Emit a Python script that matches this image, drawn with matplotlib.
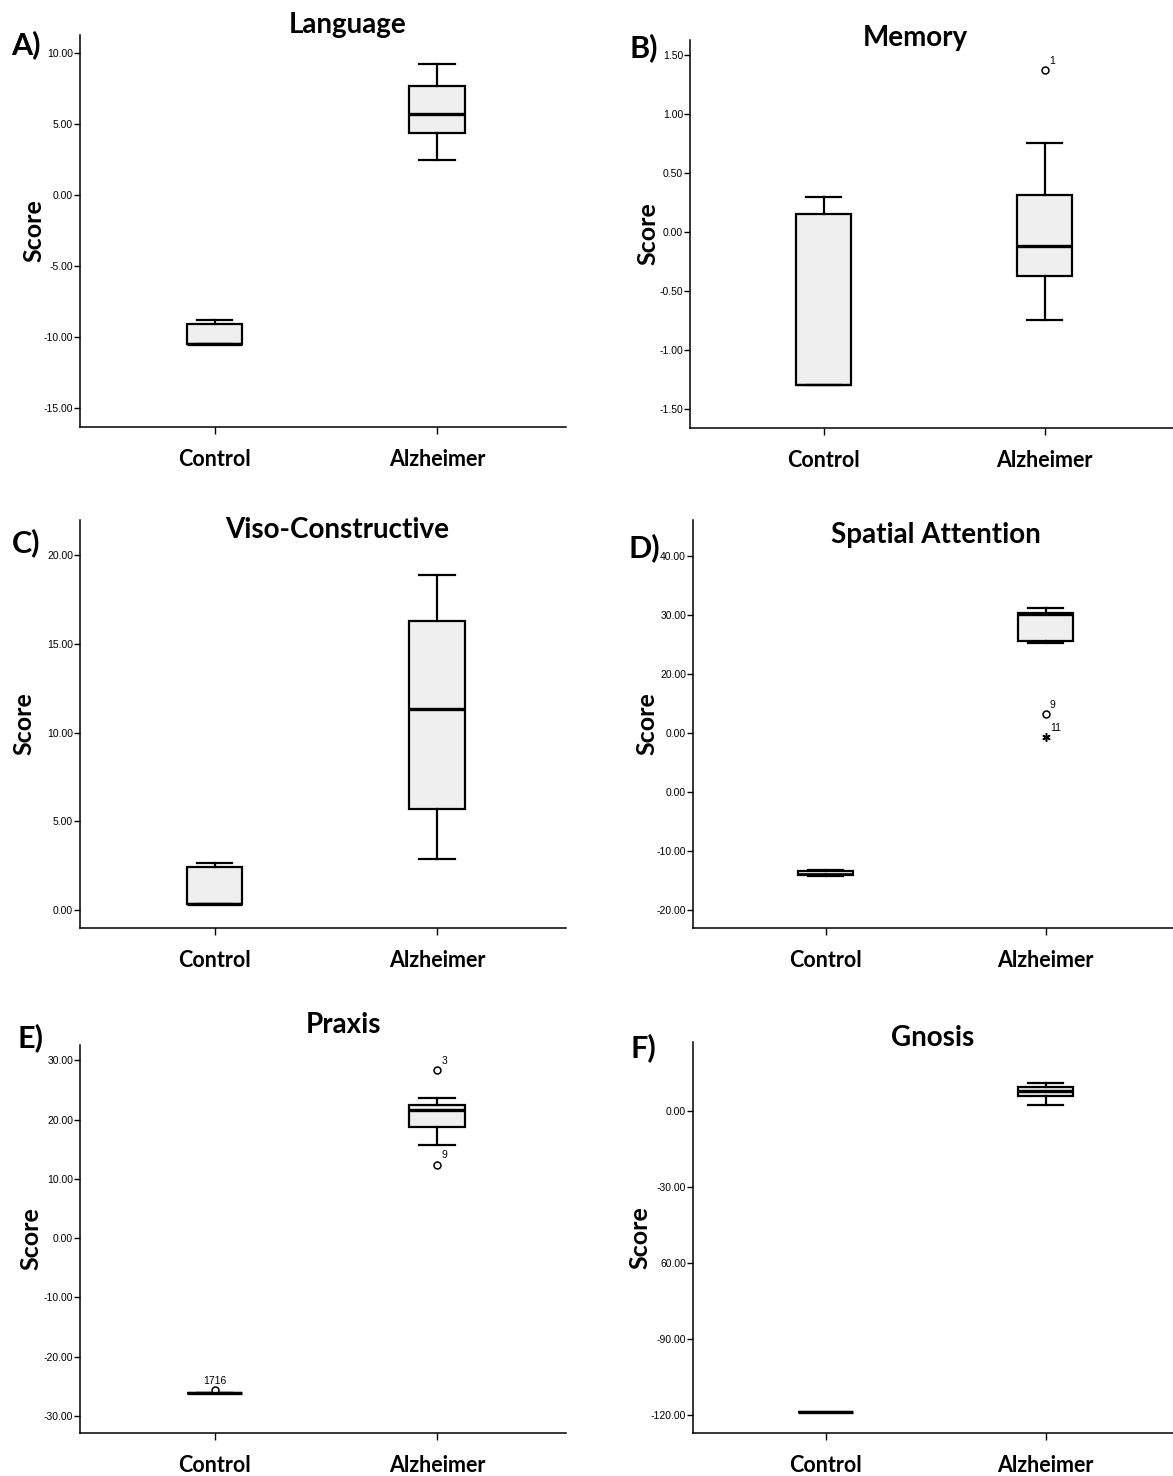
import matplotlib
matplotlib.use("Agg")
import matplotlib.pyplot as plt
from matplotlib.ticker import FixedLocator, FixedFormatter

groups = ["Control", "Alzheimer"]

# box stats per group: [whislo, q1, med, q3, whishi]
language_control = [-10.5, -10.5, -10.5, -9.1, -8.8]
language_alz = [2.5, 4.4, 5.7, 7.7, 9.2]

memory_control = [-1.30, -1.30, -1.30, 0.15, 0.30]
memory_alz = [-0.75, -0.37, -0.12, 0.31, 0.75]
memory_alz_out = [1.37]
memory_alz_out_labels = ["1"]

viso_control = [0.35, 0.35, 0.35, 2.4, 2.65]
viso_alz = [2.9, 5.7, 11.3, 16.3, 18.9]

spatial_control = [-14.3, -14.0, -13.9, -13.4, -13.2]
spatial_alz = [25.2, 25.6, 30.2, 30.3, 31.2]
spatial_alz_out = [13.2]
spatial_alz_out_labels = ["9"]
spatial_alz_extreme = [9.3]
spatial_alz_extreme_labels = ["11"]

praxis_control = [-26.2, -26.2, -26.2, -26.2, -26.2]
praxis_control_out = [-25.6]
praxis_control_out_labels = ["1716"]
praxis_alz = [15.8, 18.8, 21.6, 22.4, 23.6]
praxis_alz_out = [28.3, 12.4]
praxis_alz_out_labels = ["3", "9"]

gnosis_control = [-119.0, -119.0, -119.0, -119.0, -119.0]
gnosis_alz = [2.4, 5.9, 7.9, 9.5, 11.0]

language_ticks = [10, 5, 0, -5, -10, -15]
language_ticklabels = ["10.00", "5.00", "0.00", "-5.00", "-10.00", "-15.00"]
memory_ticks = [1.5, 1.0, 0.5, 0.0, -0.5, -1.0, -1.5]
memory_ticklabels = ["1.50", "1.00", "0.50", "0.00", "-0.50", "-1.00", "-1.50"]
viso_ticks = [20, 15, 10, 5, 0]
viso_ticklabels = ["20.00", "15.00", "10.00", "5.00", "0.00"]
spatial_ticks = [40, 30, 20, 10, 0, -10, -20]
spatial_ticklabels = ["40.00", "30.00", "20.00", "0.00", "0.00", "-10.00", "-20.00"]
praxis_ticks = [30, 20, 10, 0, -10, -20, -30]
praxis_ticklabels = ["30.00", "20.00", "10.00", "0.00", "-10.00", "-20.00", "-30.00"]
gnosis_ticks = [0, -30, -60, -90, -120]
gnosis_ticklabels = ["0.00", "-30.00", "60.00", "-90.00", "-120.00"]

W, H = 1173, 1476
FONT = "Lato"


def rect(l, t, r, b):
    return [l / W, 1 - b / H, (r - l) / W, (b - t) / H]


def make_stats(vals, fliers=()):
    lo, q1, med, q3, hi = vals
    return dict(whislo=lo, q1=q1, med=med, q3=q3, whishi=hi, fliers=list(fliers))


def draw_panel(fig, box, ylim, ticks, ticklabels, title, title_xy, letter, letter_xy,
               ylab_x, ctrl, alz, ctrl_out=(), alz_out=(), caps=(True, True), med_lw=(2.4, 2.4)):
    ax = fig.add_axes(rect(*box))
    stats = [make_stats(ctrl, ctrl_out), make_stats(alz, alz_out)]
    for i, st in enumerate(stats):
        ax.bxp([st], positions=[i], widths=0.25, patch_artist=True, showcaps=caps[i],
               boxprops=dict(facecolor="#efefef", edgecolor="black", linewidth=1.6),
               medianprops=dict(color="black", linewidth=med_lw[i]),
               whiskerprops=dict(color="black", linewidth=1.6),
               capprops=dict(color="black", linewidth=1.6),
               capwidths=0.16,
               flierprops=dict(marker="o", markerfacecolor="white", markeredgecolor="black",
                               markersize=5, markeredgewidth=1.1))
    ax.set_xlim(-0.605, 1.58)
    ax.set_ylim(*ylim)
    ax.yaxis.set_major_locator(FixedLocator(ticks))
    ax.yaxis.set_major_formatter(FixedFormatter(ticklabels))
    ax.set_xticks([0, 1])
    ax.set_xticklabels(groups, fontsize=15.5, fontweight="bold", family=FONT)
    ax.tick_params(axis="x", length=5, pad=11, width=1)
    ax.tick_params(axis="y", length=4, pad=1, width=1, labelsize=7.5)
    for lab in ax.get_yticklabels():
        lab.set_family("Liberation Sans")
    ax.spines["top"].set_visible(False)
    ax.spines["right"].set_visible(False)
    ax.spines["left"].set_linewidth(1.1)
    ax.spines["bottom"].set_linewidth(1.1)
    ax.set_ylabel("Score", fontsize=18, fontweight="bold", family=FONT)
    ax.yaxis.set_label_coords(ylab_x, 0.5)
    fig.text(title_xy[0] / W, 1 - title_xy[1] / H, title, ha="center", va="center",
             fontsize=20, fontweight="bold", family=FONT)
    fig.text(letter_xy[0] / W, 1 - letter_xy[1] / H, letter, ha="center", va="center",
             fontsize=22, fontweight="bold", family=FONT)
    return ax


def label_points(ax, x, ys, labels, ha="left"):
    for y, t in zip(ys, labels):
        ax.annotate(t, (x, y), xytext=(3 if ha == "left" else 0, 3), textcoords="offset points",
                    fontsize=7.5, family="Liberation Sans", ha=ha, va="bottom")


fig = plt.figure(figsize=(W / 100, H / 100), dpi=100)

draw_panel(fig, (80, 35, 566, 427), (-16.34, 11.27), language_ticks, language_ticklabels,
           "Language", (348, 25), "A)", (26, 45), -0.070, language_control, language_alz)

axB = draw_panel(fig, (690, 40, 1173, 428), (-1.661, 1.627), memory_ticks, memory_ticklabels,
                 "Memory", (915, 38), "B)", (644, 48), -0.064, memory_control, memory_alz,
                 alz_out=memory_alz_out, med_lw=(1.6, 2.4))
label_points(axB, 1, memory_alz_out, memory_alz_out_labels)

draw_panel(fig, (80, 520, 566, 928), (-1.01, 21.97), viso_ticks, viso_ticklabels,
           "Viso-Constructive", (337, 530), "C)", (26, 543), -0.091, viso_control, viso_alz)

axD = draw_panel(fig, (693, 520, 1173, 928), (-23.05, 46.1), spatial_ticks, spatial_ticklabels,
                 "Spatial Attention", (936, 535), "D)", (644, 548), -0.071, spatial_control, spatial_alz,
                 alz_out=spatial_alz_out, med_lw=(1.2, 2.4))
axD.plot([1] * len(spatial_alz_extreme), spatial_alz_extreme, linestyle="none", marker=(6, 2, 0),
         color="black", markersize=6, markeredgewidth=1.1)
label_points(axD, 1, spatial_alz_out, spatial_alz_out_labels)
label_points(axD, 1, spatial_alz_extreme, spatial_alz_extreme_labels)

axE = draw_panel(fig, (80, 1045, 566, 1433), (-32.9, 32.6), praxis_ticks, praxis_ticklabels,
                 "Praxis", (343, 1025), "E)", (30, 1038), -0.078, praxis_control, praxis_alz,
                 ctrl_out=praxis_control_out, alz_out=praxis_alz_out)
label_points(axE, 0, praxis_control_out, praxis_control_out_labels, ha="center")
label_points(axE, 1, praxis_alz_out, praxis_alz_out_labels)

draw_panel(fig, (693, 1042, 1173, 1433), (-127.1, 27.2), gnosis_ticks, gnosis_ticklabels,
           "Gnosis", (933, 1038), "F)", (643, 1048), -0.086, gnosis_control, gnosis_alz,
           caps=(False, True))

fig.savefig("out.png", dpi=100, facecolor="white")
